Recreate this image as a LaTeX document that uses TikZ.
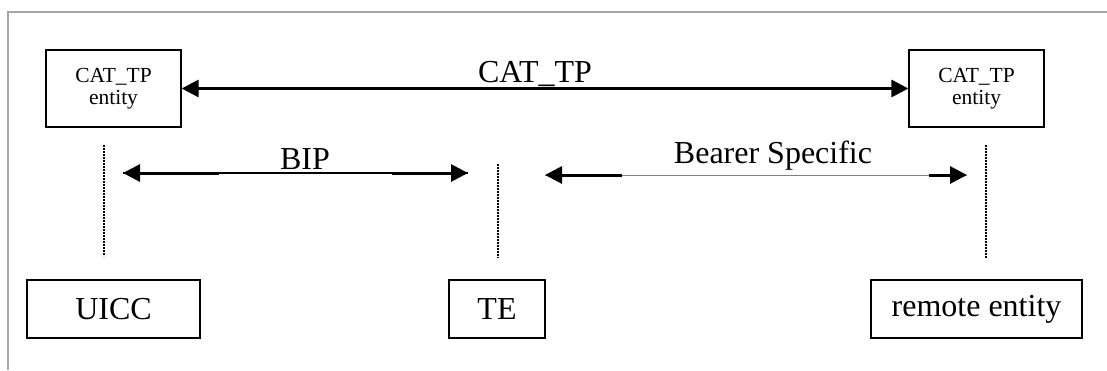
\documentclass[tikz,border=0pt]{standalone}
\usepackage{fontspec}
\setmainfont{Liberation Serif}
\usetikzlibrary{arrows.meta,calc}

\tikzset{
  entitybox/.style={draw,line width=1.3pt,minimum width=135pt,minimum height=77pt,
    inner sep=0pt,align=center,font=\fontsize{21.5}{22.5}\selectfont},
  devbox/.style={draw,line width=1.3pt,minimum height=58pt,inner sep=0pt,
    font=\fontsize{32}{34}\selectfont},
  lifeline/.style={line width=2.6pt,dash pattern=on 2pt off 1pt},
  headtip/.style={-{Triangle[length=17pt,width=17pt]},line width=3pt},
  biglabel/.style={anchor=base,inner sep=0pt,font=\fontsize{32}{34}\selectfont}
}

\begin{document}
\begin{tikzpicture}[x=1pt,y=-1pt]
		\useasboundingbox (0,0) rectangle (1107,370);
		% frame
		\draw[gray!70,line width=2pt] (8,370) -- (8,12) -- (1107,12);
		% CAT_TP entities
		\node[entitybox] (catL) at (113.5,88.5) {CAT\_TP\\entity};
		\node[entitybox] (catR) at (976.5,88.5) {CAT\_TP\\entity};
		\draw[{Triangle[length=17pt,width=17pt]}-{Triangle[length=17pt,width=17pt]},line width=3pt] (catL) -- (catR);
		\node[biglabel] (catlbl) at (535,82) {CAT\_TP};
		% devices
		\node[devbox,minimum width=173pt] (uicc) at (113.5,309) {UICC};
		\node[devbox,minimum width=96pt] (te) at (497,309) {TE};
		\node[devbox,minimum width=211pt] (remote) at (976.5,309) {remote entity};
		% lifelines
		\coordinate (uiccT) at (104,145);
		\coordinate (uiccB) at (104,256);
		\coordinate (teT) at (498,164);
		\coordinate (teB) at (498,258);
		\coordinate (remT) at (986,145);
		\coordinate (remB) at (986,258);
		\draw[lifeline] (uiccT) -- (uiccB);
		\draw[lifeline] (teT) -- (teB);
		\draw[lifeline] (remT) -- (remB);
		% BIP
		\coordinate (bipL) at (123,173);
		\coordinate (bipR) at (468,173);
		\draw[line width=1.5pt] (bipL) -- (bipR);
		\draw[headtip] ($(bipL)+(96,0)$) -- (bipL);
		\draw[headtip] ($(bipR)-(76,0)$) -- (bipR);
		\node[biglabel] (biplbl) at (305,169) {BIP};
		% bearer specific
		\coordinate (bsL) at (545,175);
		\coordinate (bsR) at (967,175);
		\draw[gray,line width=1pt] (bsL) -- (bsR);
		\draw[headtip] ($(bsL)+(77,0)$) -- (bsL);
		\draw[headtip] ($(bsR)-(38,0)$) -- (bsR);
		\node[biglabel] (bslbl) at (773,163) {Bearer Specific};
	\end{tikzpicture}
\end{document}
